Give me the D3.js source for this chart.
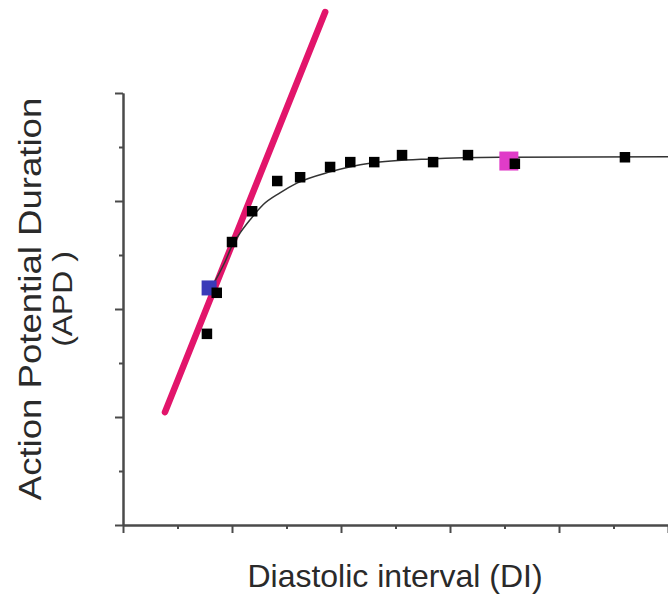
<!DOCTYPE html>
<html>
<head>
<meta charset="utf-8">
<script src="https://cdn.jsdelivr.net/npm/d3@7"></script>
<style>
  body { margin: 0; background: #fff; }
  text { font-family: "Liberation Sans", Arial, sans-serif; fill: #2a2a2a; }
</style>
</head>
<body>
<div id="restitution"></div>
<script>
// Measured APD points (DI, APD) in axis units (one minor tick = 1)
var diPoints  = [1.54, 1.72, 2.00, 2.37, 2.83, 3.25, 3.80, 4.17, 4.61, 5.12, 5.69, 6.33, 7.19, 9.21]
var apdPoints = [3.54, 4.30, 5.24, 5.81, 6.37, 6.44, 6.63, 6.72, 6.72, 6.85, 6.72, 6.85, 6.69, 6.81]

// Fitted restitution curve
var diCurve  = [1.63, 1.87, 2.00, 2.15, 2.33, 2.57, 2.88, 3.19, 3.80, 4.53, 5.63, 6.92, 10.0]
var apdCurve = [4.41, 4.87, 5.17, 5.41, 5.65, 5.93, 6.15, 6.33, 6.54, 6.70, 6.78, 6.81, 6.82]

// Steep slope line
var diSlope  = [0.77, 3.71]
var apdSlope = [2.09, 9.50]

// Highlighted points
var diBlue = 1.58, apdBlue = 4.39
var diMagenta = 7.08, apdMagenta = 6.74

var width = 668, height = 603

var svg = d3.select("#restitution")
    .append("svg")
    .attr("width", width)
    .attr("height", height)

var x = d3.scaleLinear().domain([0, 10]).range([123, 668])
var y = d3.scaleLinear().domain([0, 8]).range([525, 93])

// ----------------- //
// Axes
// ----------------- //
var axisColor = "#4a4a4a"

function styleAxis(g) {
    g.selectAll("path, line").attr("stroke", axisColor).attr("stroke-width", 2)
    g.selectAll("text").remove()
}

svg.append("g")
    .attr("transform", "translate(123,0)")
    .call(d3.axisLeft(y).tickValues([1, 3, 5, 7]).tickSize(4).tickSizeOuter(0).tickFormat(""))
    .call(styleAxis)
svg.append("g")
    .attr("transform", "translate(123,0)")
    .call(d3.axisLeft(y).tickValues([0, 2, 4, 6, 8]).tickSize(8).tickSizeOuter(0).tickFormat(""))
    .call(styleAxis)

svg.append("g")
    .attr("transform", "translate(0,525)")
    .call(d3.axisBottom(x).tickValues([1, 3, 5, 7, 9]).tickSize(4).tickSizeOuter(0).tickFormat(""))
    .call(styleAxis)
svg.append("g")
    .attr("transform", "translate(0,525)")
    .call(d3.axisBottom(x).tickValues([0, 2, 4, 6, 8, 10]).tickSize(8).tickSizeOuter(0).tickFormat(""))
    .call(styleAxis)

// ----------------- //
// Slope line
// ----------------- //
var line = d3.line()
    .x(function(d) { return x(d[0]) })
    .y(function(d) { return y(d[1]) })

svg.append("path")
    .datum(d3.zip(diSlope, apdSlope))
    .attr("d", line)
    .attr("fill", "none")
    .attr("stroke", "#e2156b")
    .attr("stroke-width", 6.5)
    .attr("stroke-linecap", "round")

// Fitted curve
svg.append("path")
    .datum(d3.zip(diCurve, apdCurve))
    .attr("d", line.curve(d3.curveMonotoneX))
    .attr("fill", "none")
    .attr("stroke", "#333")
    .attr("stroke-width", 1.5)

// Highlight squares
var blueSize = 15, magSize = 19
svg.append("rect")
    .attr("x", x(diBlue) - blueSize / 2)
    .attr("y", y(apdBlue) - blueSize / 2)
    .attr("width", blueSize).attr("height", blueSize)
    .attr("fill", "#3a3ab8")
svg.append("rect")
    .attr("x", x(diMagenta) - magSize / 2)
    .attr("y", y(apdMagenta) - magSize / 2)
    .attr("width", magSize).attr("height", magSize)
    .attr("fill", "#e03cc8")

// Data points
var ptSize = 10.5
svg.append("g")
    .selectAll("rect")
    .data(d3.zip(diPoints, apdPoints))
    .enter()
    .append("rect")
    .attr("x", function(d) { return x(d[0]) - ptSize / 2 })
    .attr("y", function(d) { return y(d[1]) - ptSize / 2 })
    .attr("width", ptSize).attr("height", ptSize)
    .attr("fill", "#000")

// ----------------- //
// Labels
// ----------------- //
svg.append("text")
    .attr("x", 395)
    .attr("y", 587)
    .attr("text-anchor", "middle")
    .attr("font-size", "32px")
    .text("Diastolic interval (DI)")

// y label is a little stretched along its length in the original
var yLab = svg.append("text")
    .attr("transform", "translate(0,299) rotate(-90) scale(1.18,1)")
    .attr("text-anchor", "middle")
yLab.append("tspan").attr("x", 0).attr("y", 41).attr("font-size", "31px").text("Action Potential Duration")
yLab.append("tspan").attr("x", 0).attr("y", 72).attr("font-size", "27px").text("(APD )")
</script>
</body>
</html>
